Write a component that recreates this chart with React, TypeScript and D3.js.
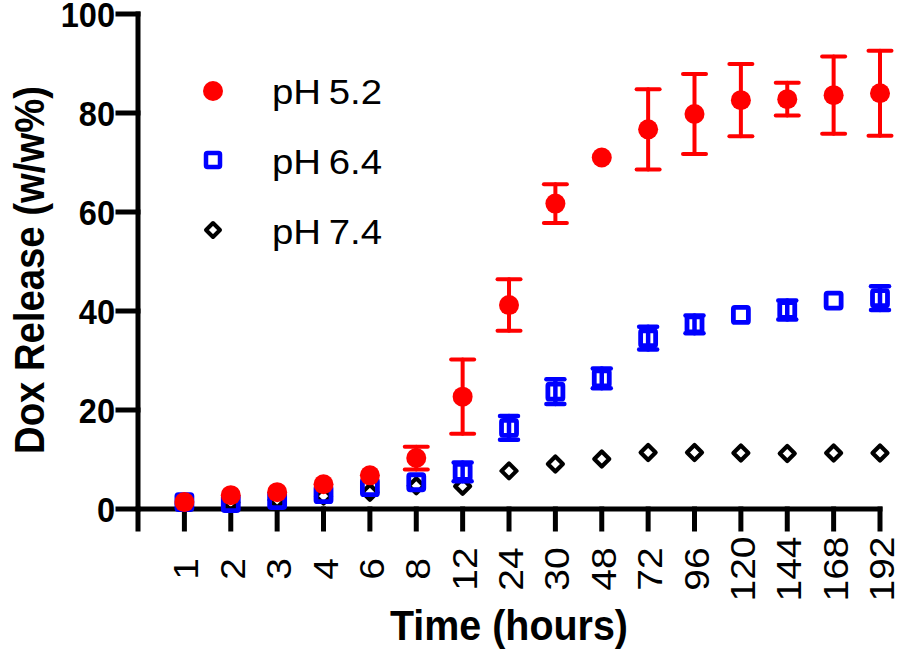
import React from "react";
import * as d3 from "d3";

const categories = ["1","2","3","4","6","8","12","24","30","48","72","96","120","144","168","192"];
const ph52Mean = [1.4, 2.8, 3.4, 5.0, 6.8, 10.3, 22.7, 41.2, 61.7, 71.0, 76.7, 79.8, 82.6, 82.8, 83.6, 84.0];
const ph52Err = [0, 0, 0, 0, 0, 2.3, 7.5, 5.2, 3.9, 0, 8.1, 8.1, 7.3, 3.3, 7.8, 8.6];
const ph64Mean = [1.4, 1.2, 1.8, 3.0, 4.4, 5.4, 7.5, 16.4, 23.7, 26.4, 34.5, 37.3, 39.2, 40.2, 42.1, 42.6];
const ph64Err = [0, 0, 0, 0, 0, 0, 1.9, 2.4, 2.5, 2.0, 2.3, 1.8, 0, 1.9, 0, 2.4];
const ph74Mean = [1.0, 1.3, 1.8, 2.6, 3.4, 4.7, 4.6, 7.7, 9.1, 10.1, 11.4, 11.4, 11.3, 11.2, 11.3, 11.3];
const yTicks = [0, 20, 40, 60, 80, 100];
const legendLabels = ["pH\u20095.2", "pH\u20096.4", "pH\u20097.4"];

const W = 900, H = 660;
const FONT = "'Liberation Sans', Arial, Helvetica, sans-serif";

export default function App() {
  const x = d3.scalePoint<string>().domain(categories).range([184.4, 880]);
  const y = d3.scaleLinear().domain([0, 100]).range([509, 14]);
  const axisX = 138;
  const axisY = y(0);
  const tickLen = 20;
  const sw = 5;
  const sq = 15;

  return (
    <svg width={W} height={H} style={{ position: "absolute", left: 0, top: 0, background: "#fff" }}>
      {/* axes */}
      <g stroke="#000" strokeWidth={sw} strokeLinecap="square">
        <line x1={axisX} x2={axisX} y1={y(100)} y2={axisY + tickLen} />
        <line x1={axisX} x2={880} y1={axisY} y2={axisY} />
        {yTicks.map((t) => (
          <line key={"yt" + t} x1={axisX - tickLen} x2={axisX} y1={y(t)} y2={y(t)} />
        ))}
        {categories.map((c) => (
          <line key={"xt" + c} x1={x(c)} x2={x(c)} y1={axisY} y2={axisY + tickLen} />
        ))}
      </g>
      {/* y tick labels */}
      {yTicks.map((t) => (
        <text key={"yl" + t} transform={`translate(115,${y(t) + 13}) scale(0.93,1)`} textAnchor="end"
          fontFamily={FONT} fontWeight="bold" fontSize={35} fill="#000">{t}</text>
      ))}
      {/* x tick labels */}
      {categories.map((c) => (
        <text key={"xl" + c} transform={`translate(${(x(c) as number) + 14},569) scale(0.88,1) rotate(-90)`}
          textAnchor="middle" fontFamily={FONT} fontSize={39} fill="#000">{c}</text>
      ))}
      {/* axis titles */}
      <text x={509} y={640} textAnchor="middle" fontFamily={FONT} fontWeight="bold" fontSize={42}
        textLength={238} lengthAdjust="spacingAndGlyphs">Time (hours)</text>
      <text transform={`translate(44,270) rotate(-90)`} textAnchor="middle" fontFamily={FONT} fontWeight="bold"
        fontSize={42} textLength={368} lengthAdjust="spacingAndGlyphs">Dox Release (w/w%)</text>

      {/* pH 7.4 diamonds */}
      <g>
        {categories.map((c, i) => {
          const cx = x(c) as number, cy = y(ph74Mean[i]);
          const r = 7.5;
          return <path key={"d" + c} d={`M${cx},${cy - r}L${cx + r},${cy}L${cx},${cy + r}L${cx - r},${cy}Z`}
            fill="none" stroke="#000" strokeWidth={4.2} strokeLinejoin="round" />;
        })}
      </g>
      {/* pH 6.4 error bars and squares */}
      <g>
        {categories.map((c, i) => {
          const cx = x(c) as number, e = ph64Err[i];
          if (!e) return null;
          const t = y(ph64Mean[i] + e), b = y(ph64Mean[i] - e);
          return (
            <g key={"be" + c} stroke="#0000ff" strokeWidth={4.5} strokeLinecap="round">
              <line x1={cx} x2={cx} y1={t} y2={b} />
              <line x1={cx - 9} x2={cx + 9} y1={t} y2={t} />
              <line x1={cx - 9} x2={cx + 9} y1={b} y2={b} />
            </g>
          );
        })}
        {categories.map((c, i) => {
          const cx = x(c) as number, cy = y(ph64Mean[i]);
          return <rect key={"s" + c} x={cx - sq / 2} y={cy - sq / 2} width={sq} height={sq}
            fill="none" stroke="#0000ff" strokeWidth={4.8} rx={1.5} />;
        })}
      </g>
      {/* pH 5.2 error bars and circles */}
      <g>
        {categories.map((c, i) => {
          const cx = x(c) as number, e = ph52Err[i];
          if (!e) return null;
          const t = y(ph52Mean[i] + e), b = y(ph52Mean[i] - e);
          return (
            <g key={"re" + c} stroke="#ff0000" strokeWidth={4} strokeLinecap="round">
              <line x1={cx} x2={cx} y1={t} y2={b} />
              <line x1={cx - 11.5} x2={cx + 11.5} y1={t} y2={t} />
              <line x1={cx - 11.5} x2={cx + 11.5} y1={b} y2={b} />
            </g>
          );
        })}
        {categories.map((c, i) => (
          <circle key={"c" + c} cx={x(c)} cy={y(ph52Mean[i])} r={10} fill="#ff0000" />
        ))}
      </g>

      {/* legend */}
      <circle cx={213} cy={91} r={10} fill="#ff0000" />
      <rect x={213 - 7} y={160 - 7} width={14} height={14} fill="none" stroke="#0000ff" strokeWidth={4.5} rx={1.5} />
      <path d={`M213,${230 - 7}L220,230L213,${230 + 7}L206,230Z`} fill="none" stroke="#000" strokeWidth={4} strokeLinejoin="round" />
      {legendLabels.map((l, i) => (
        <text key={"lg" + i} x={272} y={104 + i * 70} fontFamily={FONT} fontSize={35} fill="#000"
          textLength={110} lengthAdjust="spacingAndGlyphs">{l}</text>
      ))}
    </svg>
  );
}
